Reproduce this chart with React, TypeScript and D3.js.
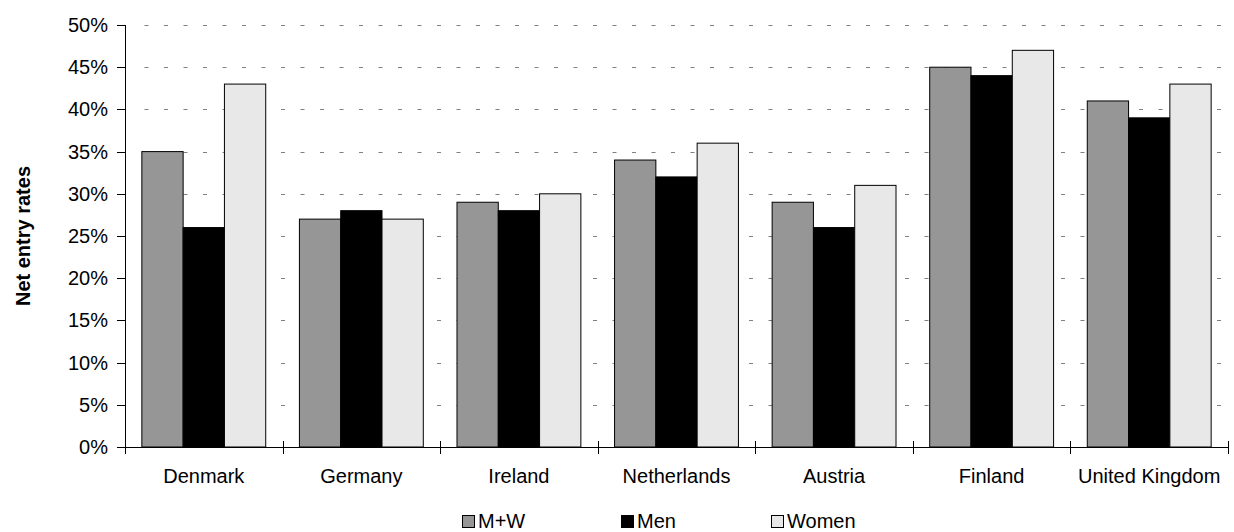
import React from "react";
import * as d3 from "d3";

const categories = ["Denmark", "Germany", "Ireland", "Netherlands", "Austria", "Finland", "United Kingdom"];
const seriesNames = ["M+W", "Men", "Women"];
const mwValues = [35, 27, 29, 34, 29, 45, 41];
const menValues = [26, 28, 28, 32, 26, 44, 39];
const womenValues = [43, 27, 30, 36, 31, 47, 43];
const yTicks = [0, 5, 10, 15, 20, 25, 30, 35, 40, 45, 50];
const colors = ["#969696", "#000000", "#e8e8e8"];

const W = 1234;
const H = 532;
const left = 125;
const right = 1228;
const top = 25;
const bottom = 447;
const font = "'Liberation Sans', Arial, sans-serif";

export default function App() {
  const series = [mwValues, menValues, womenValues];
  const x = d3.scaleBand<string>().domain(categories).range([left, right]).paddingInner(0).paddingOuter(0);
  const bw = x.bandwidth();
  const inner = d3.scaleBand<number>().domain([0, 1, 2]).range([0, bw]).paddingOuter(0.408).paddingInner(0);
  const y = d3.scaleLinear().domain([0, 50]).range([bottom, top]);

  const legendX = [462, 621, 771];

  return (
    <svg width={W} height={H} style={{ position: "absolute", left: 0, top: 0, background: "#fff" }} fontFamily={font}>
      {/* gridlines */}
      {yTicks.filter((t) => t > 0).map((t) => (
        <line key={"g" + t} x1={left + 19.5} x2={right + 2} y1={Math.round(y(t)) + 0.5} y2={Math.round(y(t)) + 0.5}
          stroke="#808080" strokeWidth={1.2} strokeDasharray="4,15.5" />
      ))}
      {/* bars */}
      {categories.map((c, i) => (
        <g key={c}>
          {series.map((s, k) => (
            <rect key={k}
              x={(x(c) as number) + (inner(k) as number)}
              y={y(s[i])}
              width={inner.bandwidth()}
              height={bottom - y(s[i])}
              fill={colors[k]} stroke="#000" strokeWidth={1} />
          ))}
        </g>
      ))}
      {/* y axis */}
      <line x1={left + 0.5} x2={left + 0.5} y1={top} y2={bottom} stroke="#000" strokeWidth={1} />
      {yTicks.map((t) => (
        <g key={"t" + t}>
          <line x1={left - 8} x2={left} y1={Math.round(y(t)) + 0.5} y2={Math.round(y(t)) + 0.5} stroke="#000" />
          <text x={108} y={y(t) + 7} textAnchor="end" fontSize={20} fill="#000">{t + "%"}</text>
        </g>
      ))}
      {/* x axis */}
      <line x1={left} x2={right} y1={bottom + 0.5} y2={bottom + 0.5} stroke="#000" strokeWidth={1} />
      {d3.range(categories.length + 1).map((i) => {
        const xx = Math.round(left + i * bw) + 0.5;
        return <line key={"xt" + i} x1={xx} x2={xx} y1={bottom - 6} y2={bottom + 7} stroke="#000" />;
      })}
      {categories.map((c) => (
        <text key={"l" + c} x={(x(c) as number) + bw / 2} y={483} textAnchor="middle" fontSize={20} fill="#000">{c}</text>
      ))}
      {/* y title */}
      <text transform={`translate(23,${(top + bottom) / 2}) rotate(-90)`} textAnchor="middle" dy="0.35em" fontSize={20} fontWeight="bold" fill="#000">Net entry rates</text>
      {/* legend */}
      {seriesNames.map((n, k) => (
        <g key={"lg" + n}>
          <rect x={legendX[k] + 0.5} y={515.5} width={12} height={12} fill={colors[k]} stroke="#000" strokeWidth={1} />
          <text x={legendX[k] + 16} y={528} fontSize={20} fill="#000">{n}</text>
        </g>
      ))}
    </svg>
  );
}
